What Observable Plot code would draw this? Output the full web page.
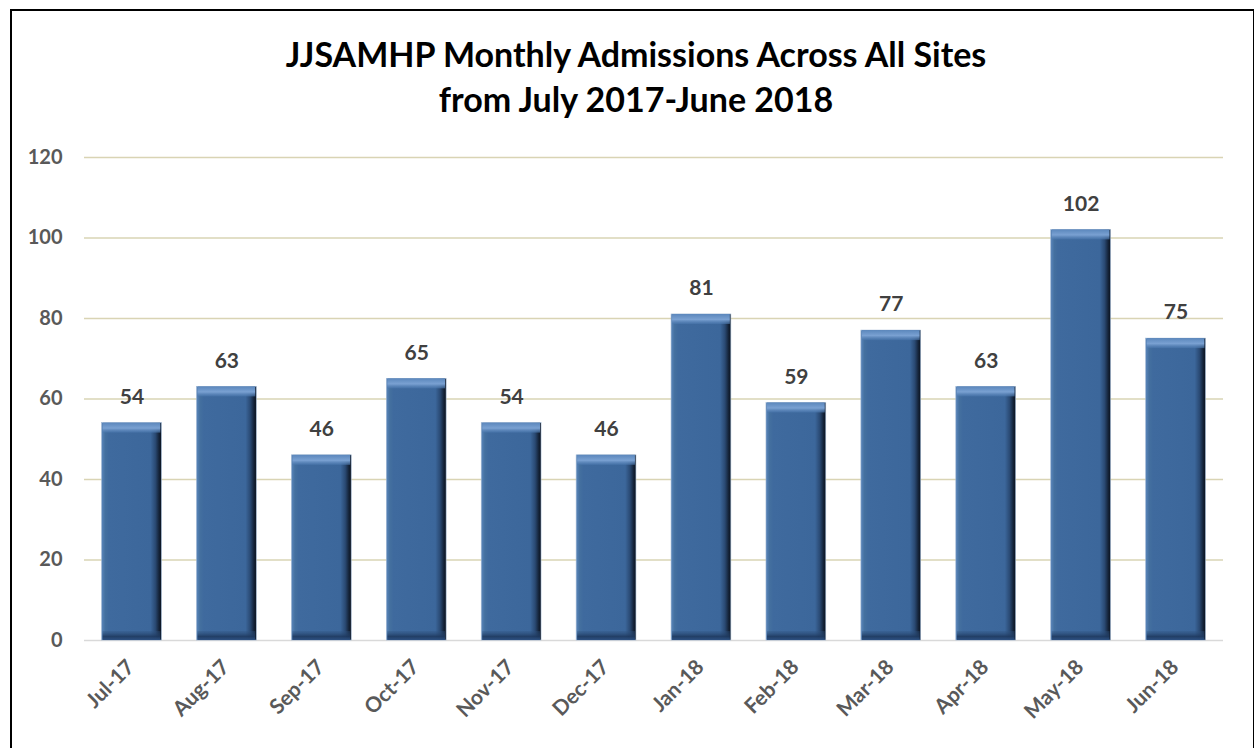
<!DOCTYPE html>
<html>
<head>
<meta charset="utf-8">
<script src="https://cdn.jsdelivr.net/npm/d3@7"></script>
<script src="https://cdn.jsdelivr.net/npm/@observablehq/plot@0.6"></script>
<style>
  html, body { margin: 0; padding: 0; background: #fff; }
  #wrap { position: relative; width: 1257px; height: 748px; overflow: hidden; font-family: Lato, "Open Sans", sans-serif; }
  #frame { position: absolute; left: 10px; top: 9px; width: 1244px; height: 760px; border: 2px solid #000; border-right-width: 1px; box-sizing: border-box; pointer-events: none; }
  #title { position: absolute; left: 0; top: 31px; width: 1272px; text-align: center; font-weight: 700; font-size: 34px; line-height: 45px; color: #000; }
  #chart { position: absolute; left: 0; top: 0; }
</style>
</head>
<body>
<div id="wrap">
  <div id="chart"></div>
  <div id="title">JJSAMHP Monthly Admissions Across All Sites<br>from July 2017-June 2018</div>
  <div id="frame"></div>
</div>
<script>
const months = ["Jul-17","Aug-17","Sep-17","Oct-17","Nov-17","Dec-17","Jan-18","Feb-18","Mar-18","Apr-18","May-18","Jun-18"];
const admissions = [54, 63, 46, 65, 54, 46, 81, 59, 77, 63, 102, 75];
const yTicks = [0, 20, 40, 60, 80, 100, 120];

const data = months.map((m, i) => ({month: m, value: admissions[i]}));

const plot = Plot.plot({
  width: 1257,
  height: 748,
  marginTop: 157,
  marginBottom: 108,
  marginLeft: 84,
  marginRight: 34,
  style: {fontFamily: "Lato, 'Open Sans', sans-serif", background: "transparent"},
  x: {domain: months, paddingInner: 0.37, paddingOuter: 0.185, round: false, label: null},
  y: {domain: [0, 120], label: null},
  marks: [
    Plot.ruleY(yTicks.filter(t => t > 0), {stroke: "#d9d4b4", strokeWidth: 1.5}),
    Plot.ruleY([0], {stroke: "#d9d9d9", strokeWidth: 1.5}),
    Plot.axisY({ticks: yTicks, tickSize: 0, tickPadding: 22, fontSize: 20, fontWeight: 700, fill: "#595959", label: null}),
    Plot.axisX({tickSize: 0, tickRotate: -45, fontSize: 21, fontWeight: 700, fill: "#595959", tickPadding: 23, dx: -1, label: null}),
    Plot.barY(data, {x: "month", y: "value", fill: "url(#barH)", stroke: "#9fb6d2", strokeWidth: 0.6}),
    Plot.barY(data, {x: "month", y1: "value", y2: "value", insetBottom: -10, insetLeft: 1, insetRight: 1, fill: "url(#barTop)"}),
    Plot.barY(data, {x: "month", y1: 0, y2: 0, insetTop: -9, insetLeft: 1, insetRight: 1, fill: "url(#barBot)"}),
    Plot.text(data, {x: "month", y: "value", text: d => String(d.value), dy: -26, fontSize: 21, fontWeight: 700, fill: "#404040"})
  ]
});

const svg = d3.select(plot);
const defs = svg.insert("defs", ":first-child");
const h = defs.append("linearGradient").attr("id", "barH").attr("x1", "0").attr("x2", "1").attr("y1", "0").attr("y2", "0");
[["0%", "#5a86bb"], ["6%", "#44709f"], ["12%", "#3f6a9e"], ["82%", "#3c679b"], ["90%", "#2a4a74"], ["96%", "#15243a"], ["100%", "#0a121e"]]
  .forEach(([o, c]) => h.append("stop").attr("offset", o).attr("stop-color", c));
const t = defs.append("linearGradient").attr("id", "barTop").attr("x1", "0").attr("x2", "0").attr("y1", "0").attr("y2", "1");
[["0%", "#5b87bc", 1], ["55%", "#7aa1d2", 1], ["100%", "#4a77ad", 0.6]]
  .forEach(([o, c, op]) => t.append("stop").attr("offset", o).attr("stop-color", c).attr("stop-opacity", op));
const b = defs.append("linearGradient").attr("id", "barBot").attr("x1", "0").attr("x2", "0").attr("y1", "0").attr("y2", "1");
[["0%", "#2f5380", 0.3], ["60%", "#1f3a60", 0.9], ["100%", "#2d5182", 1]]
  .forEach(([o, c, op]) => b.append("stop").attr("offset", o).attr("stop-color", c).attr("stop-opacity", op));

document.getElementById("chart").appendChild(plot);
</script>
</body>
</html>
